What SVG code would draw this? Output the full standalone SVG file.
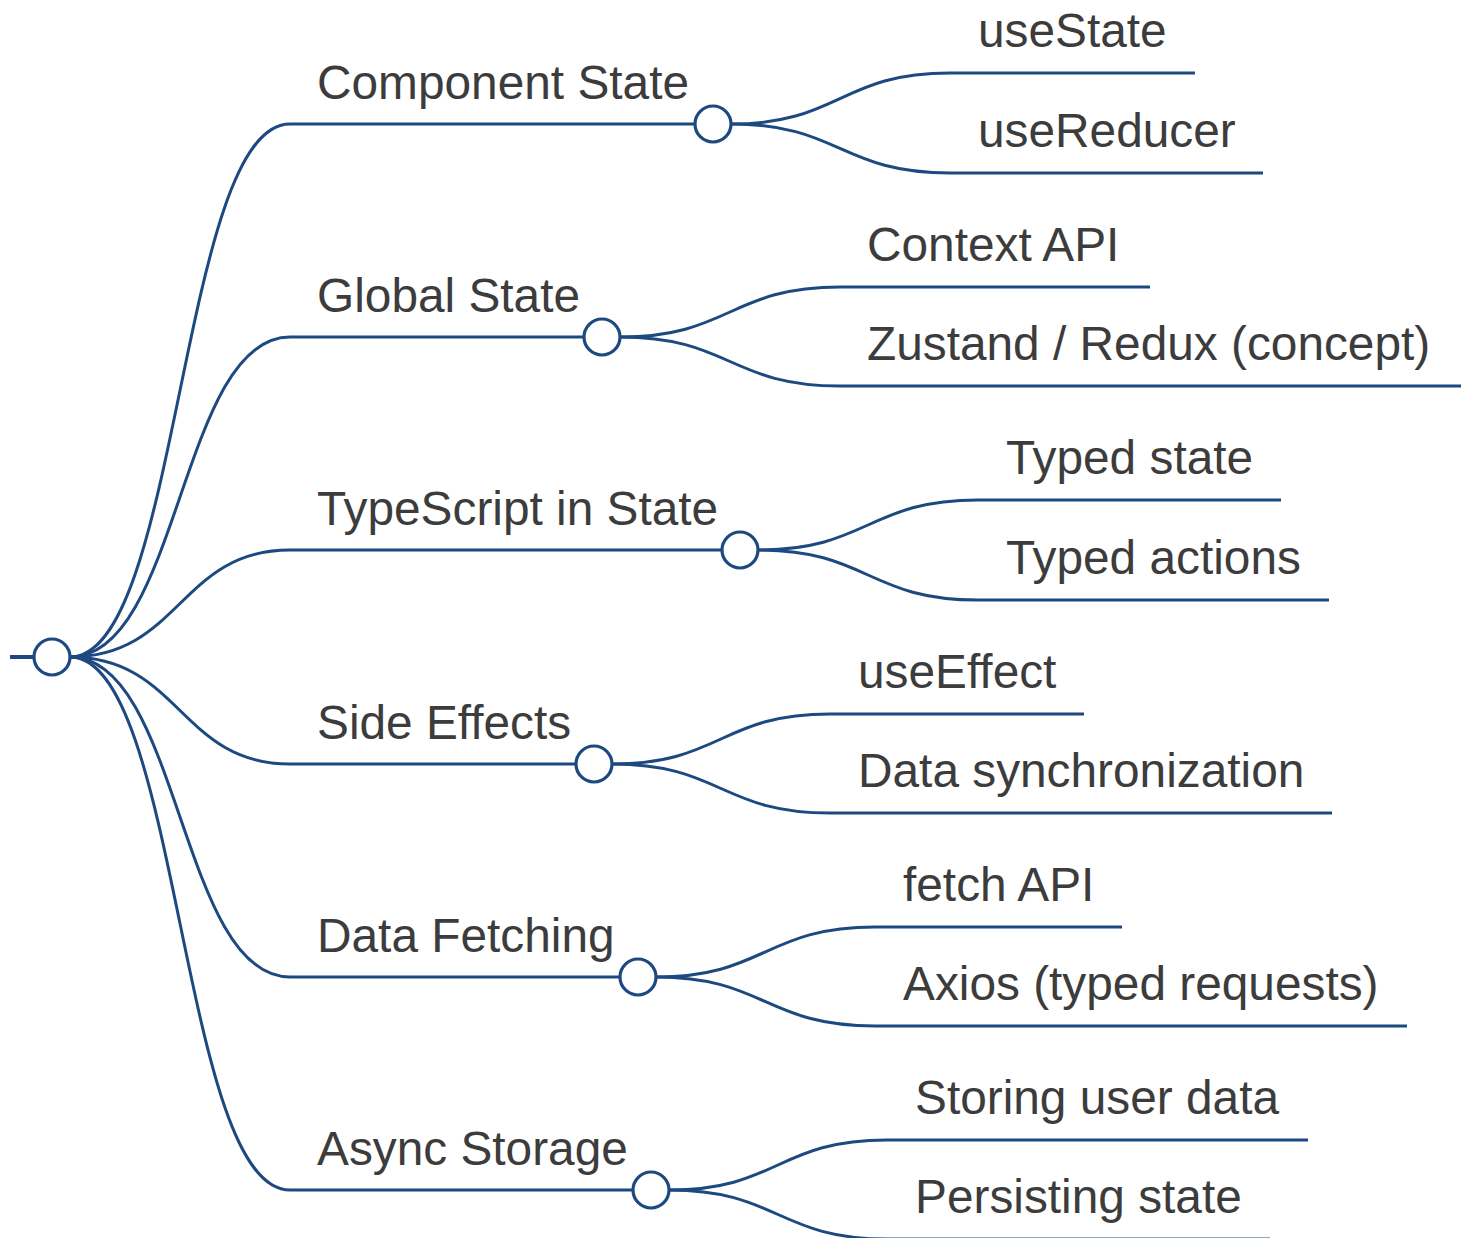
<svg xmlns="http://www.w3.org/2000/svg" width="1474" height="1238" viewBox="0 0 1474 1238">
<style>
.ln{fill:none;stroke:#1c4a80;stroke-width:3;}
.dot{fill:#fff;stroke:#1c4a80;stroke-width:3.2;}
.t{font-family:"Liberation Sans",Arial,sans-serif;font-size:47.8px;fill:#3c3c3c;}
</style>
<rect width="1474" height="1238" fill="#fff"/>
<g id="connectors">
<path class="ln" d="M10,657 H34" style="stroke-width:4"/>
<path class="ln" d="M70,657 C180,657 180,124 290,124 H695"/>
<path class="ln" d="M70,657 C180,657 180,337 290,337 H584"/>
<path class="ln" d="M70,657 C180,657 180,550 290,550 H722"/>
<path class="ln" d="M70,657 C180,657 180,764 290,764 H576"/>
<path class="ln" d="M70,657 C180,657 180,977 290,977 H620"/>
<path class="ln" d="M70,657 C180,657 180,1190 290,1190 H633"/>
<path class="ln" d="M731,124 C840,124 840,73 950,73 H1195"/>
<path class="ln" d="M731,124 C840,124 840,173 950,173 H1263"/>
<path class="ln" d="M620,337 C730,337 730,287 840,287 H1150"/>
<path class="ln" d="M620,337 C730,337 730,386 840,386 H1461"/>
<path class="ln" d="M758,550 C868,550 868,500 978,500 H1281"/>
<path class="ln" d="M758,550 C868,550 868,600 978,600 H1329"/>
<path class="ln" d="M612,764 C721,764 721,714 830,714 H1084"/>
<path class="ln" d="M612,764 C721,764 721,813 830,813 H1332"/>
<path class="ln" d="M656,977 C765,977 765,927 875,927 H1122"/>
<path class="ln" d="M656,977 C765,977 765,1026 875,1026 H1407"/>
<path class="ln" d="M669,1190 C778,1190 778,1140 887,1140 H1308"/>
<path class="ln" d="M669,1190 C778,1190 778,1239 887,1239 H1270"/>
</g>
<g id="root"><circle class="dot" cx="52" cy="657" r="18"/></g>
<g id="n-component"><circle class="dot" cx="713" cy="124" r="18"/><text class="t" x="317" y="99">Component State</text></g>
<g id="n-global"><circle class="dot" cx="602" cy="337" r="18"/><text class="t" x="317" y="312">Global State</text></g>
<g id="n-ts"><circle class="dot" cx="740" cy="550" r="18"/><text class="t" x="317" y="525">TypeScript in State</text></g>
<g id="n-side"><circle class="dot" cx="594" cy="764" r="18"/><text class="t" x="317" y="739">Side Effects</text></g>
<g id="n-fetch"><circle class="dot" cx="638" cy="977" r="18"/><text class="t" x="317" y="952">Data Fetching</text></g>
<g id="n-async"><circle class="dot" cx="651" cy="1190" r="18"/><text class="t" x="317" y="1165">Async Storage</text></g>
<g id="l-usestate"><text class="t" x="978" y="47">useState</text></g>
<g id="l-usereducer"><text class="t" x="978" y="147">useReducer</text></g>
<g id="l-context"><text class="t" x="867" y="261">Context API</text></g>
<g id="l-zustand"><text class="t" x="867" y="360">Zustand / Redux (concept)</text></g>
<g id="l-typedstate"><text class="t" x="1006" y="474">Typed state</text></g>
<g id="l-typedactions"><text class="t" x="1006" y="574">Typed actions</text></g>
<g id="l-useeffect"><text class="t" x="858" y="688">useEffect</text></g>
<g id="l-datasync"><text class="t" x="858" y="787">Data synchronization</text></g>
<g id="l-fetchapi"><text class="t" x="903" y="901">fetch API</text></g>
<g id="l-axios"><text class="t" x="903" y="1000">Axios (typed requests)</text></g>
<g id="l-storing"><text class="t" x="915" y="1114">Storing user data</text></g>
<g id="l-persisting"><text class="t" x="915" y="1213">Persisting state</text></g>
</svg>
